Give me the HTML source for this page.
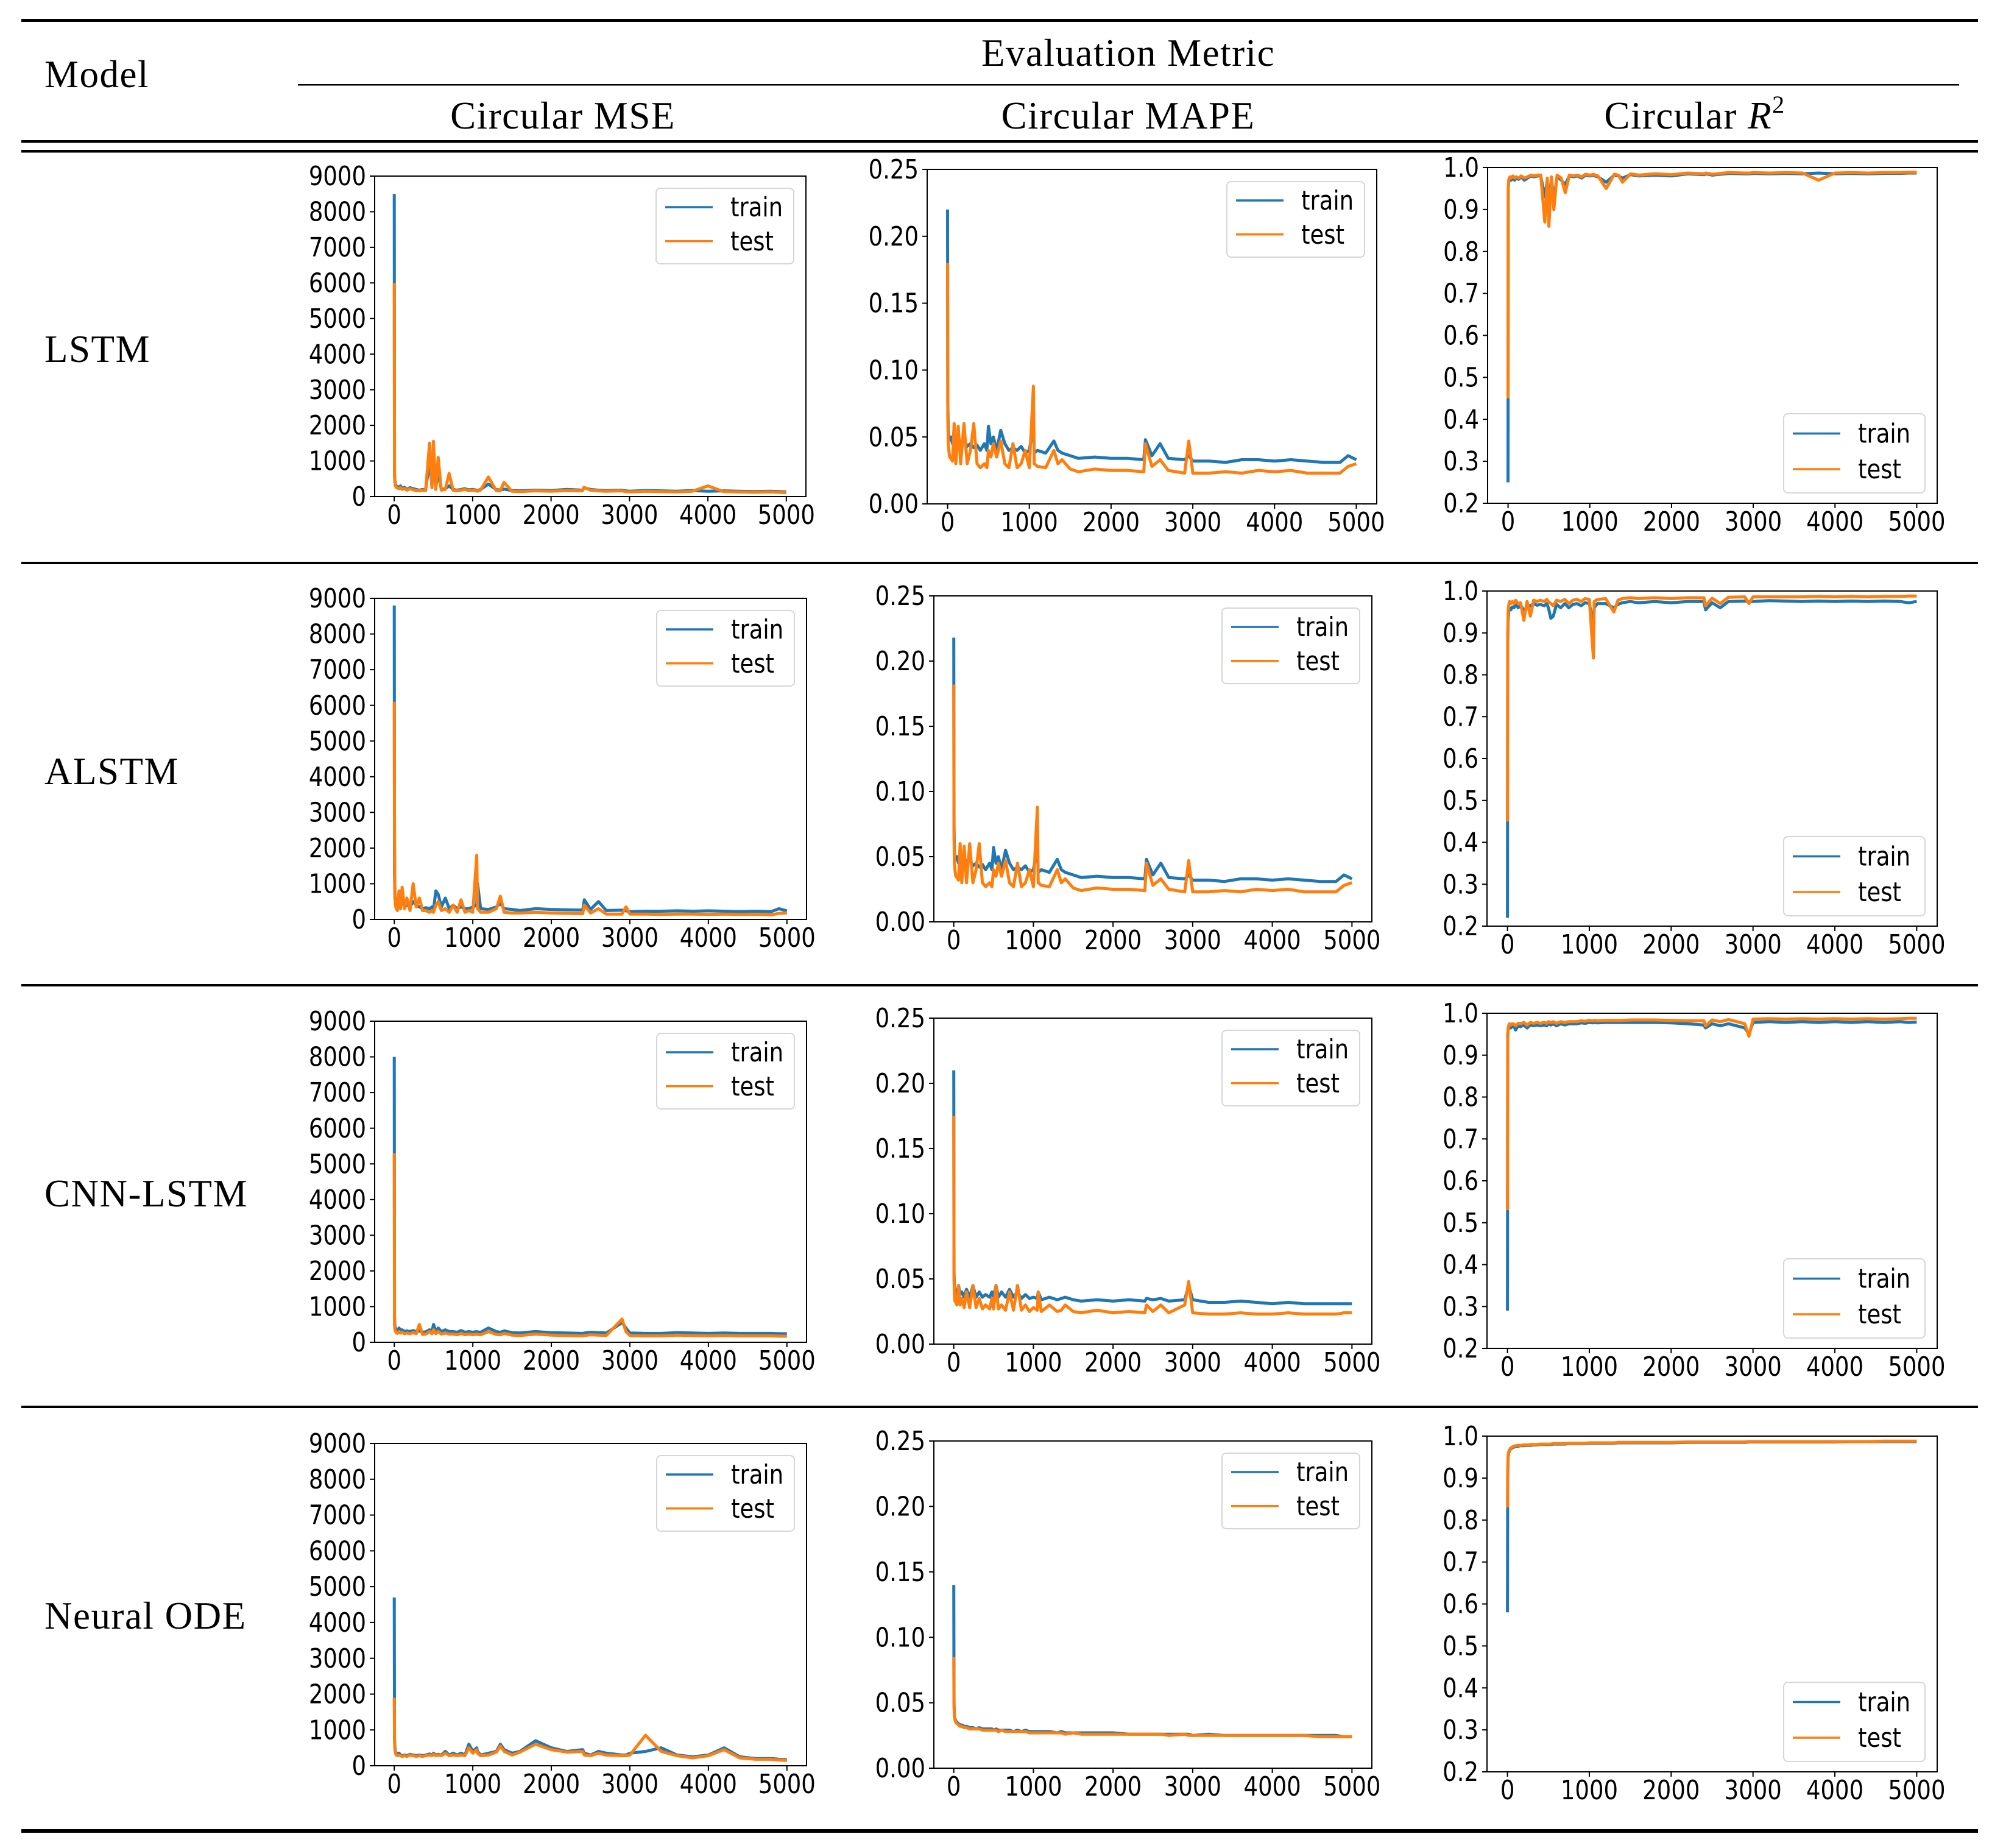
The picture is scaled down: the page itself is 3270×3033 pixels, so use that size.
<!DOCTYPE html>
<html><head><meta charset="utf-8">
<style>
html,body{margin:0;padding:0;background:#fff;}
svg{display:block;}
</style></head>
<body>
<svg id="fig" xmlns="http://www.w3.org/2000/svg" width="3270" height="3033" viewBox="0 0 3270 3033">
<rect x="0" y="0" width="3270" height="3033" fill="#fff"/>
<g fill="#000">
<rect x="35" y="31" width="3212" height="5"/>
<rect x="489" y="138" width="2727" height="2.5"/>
<rect x="35" y="230" width="3212" height="4.5"/>
<rect x="35" y="246" width="3212" height="4.5"/>
<rect x="35" y="922" width="3212" height="4"/>
<rect x="35" y="1615" width="3212" height="4"/>
<rect x="35" y="2307" width="3212" height="4"/>
<rect x="35" y="3002" width="3212" height="6"/>
</g>
<g font-family="'Liberation Serif', serif" font-size="63" letter-spacing="1.5" fill="#000">
<text x="73" y="143">Model</text>
<text x="1852" y="108" text-anchor="middle">Evaluation Metric</text>
<text x="924" y="211" text-anchor="middle">Circular MSE</text>
<text x="1852" y="211" text-anchor="middle">Circular MAPE</text>
<text x="2782" y="211" text-anchor="middle">Circular <tspan font-style="italic">R</tspan><tspan font-size="40" dy="-26">2</tspan></text>
<text x="73" y="594">LSTM</text>
<text x="73" y="1287">ALSTM</text>
<text x="73" y="1980">CNN-LSTM</text>
<text x="73" y="2673">Neural ODE</text>
</g>
<g id="charts"></g>
</svg>
<script>
const epochs = [0,3,8,15,25,40,60,80,100,130,160,200,240,280,320,360,400,450,480,500,530,560,600,650,700,750,800,850,900,950,1000,1050,1060,1100,1200,1300,1350,1400,1500,1600,1800,2000,2200,2400,2420,2500,2600,2700,2900,2950,3000,3200,3400,3600,3800,4000,4200,4400,4600,4800,4900,5000];
const xTicks = [0,1000,2000,3000,4000,5000];
const mseTicks = [0,1000,2000,3000,4000,5000,6000,7000,8000,9000];
const mapeTicks = [0,0.05,0.10,0.15,0.20,0.25];
const r2Ticks = [0.2,0.3,0.4,0.5,0.6,0.7,0.8,0.9,1.0];

const lstmMseTrain = [8500,700,450,350,300,280,250,300,220,260,200,250,220,200,180,200,190,1000,300,1050,250,700,200,220,300,200,180,200,220,190,200,180,170,200,350,200,180,210,170,160,180,170,200,180,250,200,180,170,180,160,150,170,160,150,170,150,160,150,140,150,140,130];
const lstmMseTest = [6000,600,400,300,260,240,220,250,200,230,180,220,190,170,160,180,170,1500,250,1550,200,1100,180,200,650,180,160,180,200,170,180,160,150,180,550,170,160,400,150,140,160,150,170,160,260,180,160,150,160,140,130,150,140,130,150,300,140,130,120,130,120,110];
const lstmMapeTrain = [0.22,0.075,0.055,0.05,0.048,0.05,0.045,0.055,0.045,0.05,0.045,0.048,0.043,0.045,0.042,0.044,0.04,0.045,0.04,0.058,0.045,0.05,0.04,0.055,0.045,0.04,0.042,0.04,0.043,0.038,0.04,0.058,0.038,0.04,0.038,0.047,0.04,0.038,0.036,0.034,0.035,0.034,0.034,0.033,0.048,0.036,0.045,0.034,0.033,0.036,0.032,0.032,0.031,0.033,0.033,0.032,0.033,0.032,0.031,0.031,0.036,0.033];
const lstmMapeTest = [0.18,0.065,0.045,0.04,0.035,0.034,0.032,0.06,0.03,0.058,0.03,0.06,0.03,0.04,0.06,0.03,0.027,0.03,0.027,0.04,0.035,0.045,0.035,0.047,0.03,0.027,0.045,0.027,0.03,0.04,0.027,0.088,0.03,0.028,0.027,0.04,0.03,0.033,0.026,0.024,0.026,0.025,0.025,0.024,0.045,0.028,0.033,0.025,0.023,0.047,0.023,0.023,0.024,0.023,0.025,0.024,0.025,0.023,0.023,0.023,0.028,0.03];
const lstmR2Train = [0.25,0.95,0.965,0.97,0.975,0.97,0.978,0.97,0.975,0.972,0.978,0.97,0.975,0.98,0.978,0.98,0.98,0.93,0.97,0.91,0.975,0.92,0.98,0.97,0.96,0.98,0.978,0.98,0.975,0.982,0.98,0.982,0.98,0.978,0.965,0.982,0.98,0.975,0.983,0.98,0.982,0.98,0.985,0.983,0.985,0.982,0.984,0.986,0.985,0.985,0.986,0.985,0.986,0.985,0.987,0.985,0.986,0.985,0.986,0.986,0.987,0.987];
const lstmR2Test = [0.45,0.95,0.97,0.975,0.978,0.975,0.98,0.975,0.978,0.975,0.98,0.975,0.978,0.982,0.98,0.982,0.982,0.87,0.975,0.86,0.978,0.9,0.982,0.975,0.94,0.982,0.98,0.982,0.978,0.984,0.982,0.984,0.982,0.98,0.95,0.984,0.982,0.965,0.985,0.982,0.985,0.983,0.987,0.985,0.987,0.984,0.986,0.988,0.987,0.987,0.988,0.987,0.988,0.987,0.97,0.987,0.988,0.987,0.988,0.988,0.989,0.989];

const alstmMseTrain = [8800,1300,700,500,400,350,400,350,600,350,400,350,500,400,350,300,330,300,350,280,800,700,350,600,300,400,300,350,300,300,350,400,1000,300,280,350,450,300,280,250,300,280,270,260,550,280,500,250,260,240,220,230,230,240,230,240,230,220,230,220,300,240];
const alstmMseTest = [6100,2600,600,400,300,250,800,300,900,300,600,250,1000,350,600,250,250,200,250,200,400,500,250,300,200,400,200,550,200,250,200,1800,300,200,200,300,650,200,180,180,200,180,170,160,400,180,300,150,150,350,150,150,140,150,150,140,150,140,140,130,170,180];
const alstmMapeTrain = [0.218,0.074,0.055,0.05,0.048,0.05,0.045,0.055,0.045,0.05,0.045,0.048,0.043,0.045,0.042,0.044,0.04,0.045,0.04,0.057,0.045,0.05,0.04,0.055,0.045,0.04,0.042,0.04,0.043,0.038,0.04,0.057,0.038,0.04,0.038,0.048,0.04,0.038,0.036,0.034,0.035,0.034,0.034,0.033,0.048,0.036,0.045,0.034,0.033,0.036,0.032,0.032,0.031,0.033,0.033,0.032,0.033,0.032,0.031,0.031,0.036,0.033];
const alstmMapeTest = [0.182,0.065,0.045,0.04,0.035,0.034,0.032,0.06,0.03,0.058,0.03,0.06,0.03,0.04,0.06,0.03,0.027,0.03,0.027,0.04,0.035,0.045,0.035,0.047,0.03,0.027,0.045,0.027,0.03,0.04,0.027,0.088,0.03,0.028,0.027,0.04,0.03,0.033,0.026,0.024,0.026,0.025,0.025,0.024,0.045,0.028,0.033,0.025,0.023,0.047,0.023,0.023,0.024,0.023,0.025,0.024,0.025,0.023,0.023,0.023,0.028,0.03];
const alstmR2Train = [0.22,0.88,0.93,0.95,0.96,0.955,0.962,0.96,0.97,0.96,0.965,0.955,0.96,0.965,0.97,0.966,0.968,0.965,0.97,0.96,0.935,0.94,0.968,0.96,0.97,0.96,0.968,0.97,0.965,0.972,0.97,0.92,0.96,0.97,0.97,0.96,0.968,0.972,0.975,0.972,0.975,0.972,0.975,0.975,0.955,0.972,0.96,0.975,0.976,0.975,0.975,0.977,0.976,0.975,0.976,0.975,0.976,0.975,0.976,0.975,0.972,0.975];
const alstmR2Test = [0.45,0.89,0.95,0.965,0.975,0.97,0.975,0.97,0.978,0.97,0.972,0.93,0.975,0.94,0.978,0.975,0.978,0.975,0.98,0.975,0.97,0.965,0.978,0.975,0.98,0.97,0.978,0.98,0.975,0.982,0.98,0.84,0.975,0.98,0.982,0.95,0.978,0.982,0.984,0.982,0.984,0.982,0.984,0.984,0.965,0.983,0.97,0.985,0.986,0.97,0.986,0.986,0.986,0.986,0.987,0.986,0.987,0.986,0.987,0.987,0.988,0.988];

const cnnMseTrain = [8000,700,450,400,350,320,400,330,350,300,320,300,330,300,320,280,290,350,300,500,300,400,300,350,300,300,280,330,280,300,280,300,290,280,400,300,280,320,270,260,300,270,260,250,260,280,270,260,550,400,260,250,250,270,260,250,260,250,250,250,240,240];
const cnnMseTest = [5300,500,350,300,270,250,300,260,280,240,260,240,270,240,500,220,230,300,240,350,240,300,230,260,230,230,210,250,210,230,210,230,220,210,300,220,210,250,200,190,230,200,190,180,190,210,200,190,650,300,190,180,180,200,190,180,190,180,180,180,170,170];
const cnnMapeTrain = [0.21,0.055,0.045,0.04,0.04,0.038,0.045,0.038,0.04,0.036,0.042,0.036,0.045,0.036,0.04,0.036,0.038,0.036,0.04,0.036,0.045,0.036,0.04,0.036,0.042,0.036,0.04,0.035,0.038,0.035,0.036,0.035,0.04,0.034,0.036,0.034,0.035,0.036,0.034,0.033,0.034,0.033,0.034,0.033,0.035,0.034,0.035,0.033,0.034,0.045,0.034,0.032,0.032,0.033,0.032,0.031,0.032,0.031,0.031,0.031,0.031,0.031];
const cnnMapeTest = [0.175,0.05,0.038,0.033,0.032,0.03,0.045,0.03,0.035,0.028,0.04,0.028,0.045,0.028,0.035,0.027,0.03,0.027,0.035,0.027,0.045,0.027,0.03,0.026,0.04,0.026,0.045,0.026,0.03,0.025,0.028,0.026,0.04,0.025,0.03,0.025,0.026,0.03,0.025,0.024,0.026,0.024,0.025,0.024,0.03,0.025,0.03,0.024,0.03,0.048,0.024,0.023,0.023,0.024,0.023,0.023,0.024,0.023,0.023,0.023,0.024,0.024];
const cnnR2Train = [0.29,0.95,0.96,0.965,0.97,0.965,0.97,0.968,0.96,0.97,0.968,0.972,0.965,0.972,0.97,0.972,0.97,0.972,0.97,0.975,0.972,0.975,0.97,0.975,0.972,0.975,0.975,0.975,0.977,0.976,0.978,0.977,0.978,0.977,0.978,0.978,0.978,0.978,0.978,0.978,0.978,0.977,0.975,0.972,0.965,0.975,0.97,0.975,0.965,0.95,0.978,0.98,0.978,0.98,0.978,0.98,0.978,0.98,0.978,0.98,0.978,0.979];
const cnnR2Test = [0.53,0.93,0.965,0.97,0.975,0.972,0.975,0.974,0.97,0.976,0.975,0.978,0.972,0.978,0.976,0.978,0.976,0.978,0.976,0.98,0.978,0.98,0.976,0.98,0.978,0.98,0.98,0.98,0.982,0.981,0.983,0.982,0.983,0.982,0.983,0.983,0.983,0.983,0.984,0.984,0.984,0.983,0.982,0.982,0.97,0.984,0.98,0.985,0.975,0.945,0.986,0.987,0.986,0.987,0.986,0.987,0.986,0.987,0.986,0.987,0.988,0.988];

const odeMseTrain = [4700,800,500,400,350,300,350,300,280,300,280,320,300,280,300,280,300,330,300,350,300,320,300,400,300,350,300,350,300,600,400,500,400,300,350,400,600,450,350,400,700,500,400,450,350,300,400,350,300,300,350,400,500,300,250,300,500,250,200,200,180,170];
const odeMseTest = [1900,700,450,350,300,280,300,280,260,280,260,300,280,260,280,260,280,300,280,320,280,300,280,350,280,300,280,300,280,500,350,450,350,280,300,380,550,400,300,380,600,450,380,400,300,280,350,300,280,280,300,850,400,280,220,280,450,220,180,180,160,150];
const odeMapeTrain = [0.14,0.05,0.04,0.038,0.036,0.035,0.034,0.033,0.033,0.032,0.032,0.031,0.031,0.03,0.031,0.03,0.03,0.03,0.03,0.029,0.03,0.029,0.029,0.029,0.029,0.028,0.029,0.028,0.029,0.028,0.028,0.028,0.028,0.028,0.028,0.027,0.028,0.027,0.027,0.027,0.027,0.027,0.026,0.026,0.026,0.026,0.026,0.026,0.026,0.026,0.025,0.026,0.025,0.025,0.025,0.025,0.025,0.025,0.025,0.025,0.024,0.024];
const odeMapeTest = [0.085,0.048,0.04,0.037,0.035,0.034,0.033,0.032,0.032,0.031,0.031,0.03,0.03,0.03,0.03,0.029,0.029,0.029,0.029,0.029,0.029,0.028,0.029,0.028,0.028,0.028,0.028,0.028,0.028,0.027,0.027,0.027,0.027,0.027,0.027,0.027,0.027,0.026,0.027,0.026,0.026,0.026,0.026,0.026,0.026,0.026,0.026,0.025,0.026,0.025,0.025,0.025,0.025,0.025,0.025,0.025,0.025,0.025,0.024,0.024,0.024,0.024];
const odeR2Train = [0.58,0.9,0.95,0.96,0.965,0.97,0.972,0.974,0.975,0.976,0.977,0.977,0.978,0.978,0.979,0.979,0.98,0.98,0.98,0.98,0.98,0.981,0.981,0.981,0.981,0.982,0.982,0.982,0.982,0.982,0.983,0.983,0.983,0.983,0.983,0.983,0.984,0.984,0.984,0.984,0.984,0.984,0.985,0.985,0.985,0.985,0.985,0.985,0.985,0.986,0.986,0.986,0.986,0.986,0.986,0.986,0.987,0.987,0.987,0.987,0.987,0.987];
const odeR2Test = [0.83,0.92,0.955,0.962,0.967,0.972,0.974,0.976,0.977,0.978,0.978,0.979,0.979,0.98,0.98,0.98,0.981,0.981,0.981,0.981,0.981,0.982,0.982,0.982,0.982,0.983,0.983,0.983,0.983,0.983,0.984,0.984,0.984,0.984,0.984,0.984,0.985,0.985,0.985,0.985,0.985,0.985,0.986,0.986,0.986,0.986,0.986,0.986,0.986,0.987,0.987,0.987,0.987,0.987,0.987,0.987,0.987,0.987,0.988,0.988,0.988,0.988];

const NS = 'http://www.w3.org/2000/svg';
const root = document.getElementById('charts');
const BLUE = '#1f77b4', ORANGE = '#ff7f0e';

function mk(tag, attrs, parent) {
  const e = document.createElementNS(NS, tag);
  for (const k in attrs) e.setAttribute(k, attrs[k]);
  parent.appendChild(e);
  return e;
}
function label(parent, x, y, str, anchor) {
  const t = mk('text', {transform: 'translate(' + x + ',' + y + ') scale(1,1.18)', x: 0, y: 0, 'text-anchor': anchor, 'dominant-baseline': 'central', 'font-family': "'DejaVu Sans', 'Liberation Sans', sans-serif", 'font-size': 37, fill: '#000'}, parent);
  t.textContent = str;
  return t;
}

const metrics = {
  mse: {lo: 0, hi: 9000, ticks: mseTicks, fmt: v => String(v), legend: 'top'},
  mape: {lo: 0, hi: 0.25, ticks: mapeTicks, fmt: v => v.toFixed(2), legend: 'top'},
  r2: {lo: 0.2, hi: 1.0, ticks: r2Ticks, fmt: v => v.toFixed(1), legend: 'bottom'}
};

const panels = [
  {name: 'lstm-mse', m: 'mse', box: [615,289,1323,815], tr: lstmMseTrain, te: lstmMseTest},
  {name: 'lstm-mape', m: 'mape', box: [1522,278,2260,827], tr: lstmMapeTrain, te: lstmMapeTest},
  {name: 'lstm-r2', m: 'r2', box: [2442,275,3180,826], tr: lstmR2Train, te: lstmR2Test},
  {name: 'alstm-mse', m: 'mse', box: [615,982,1324,1509], tr: alstmMseTrain, te: alstmMseTest},
  {name: 'alstm-mape', m: 'mape', box: [1533,978,2252,1513], tr: alstmMapeTrain, te: alstmMapeTest},
  {name: 'alstm-r2', m: 'r2', box: [2441,970,3180,1520], tr: alstmR2Train, te: alstmR2Test},
  {name: 'cnn-lstm-mse', m: 'mse', box: [615,1676,1324,2203], tr: cnnMseTrain, te: cnnMseTest},
  {name: 'cnn-lstm-mape', m: 'mape', box: [1533,1671,2252,2206], tr: cnnMapeTrain, te: cnnMapeTest},
  {name: 'cnn-lstm-r2', m: 'r2', box: [2441,1663,3180,2213], tr: cnnR2Train, te: cnnR2Test},
  {name: 'neural-ode-mse', m: 'mse', box: [615,2369,1324,2898], tr: odeMseTrain, te: odeMseTest},
  {name: 'neural-ode-mape', m: 'mape', box: [1533,2365,2252,2902], tr: odeMapeTrain, te: odeMapeTest},
  {name: 'neural-ode-r2', m: 'r2', box: [2441,2357,3180,2908], tr: odeR2Train, te: odeR2Test}
];

panels.forEach(p => {
  const M = metrics[p.m];
  const [x0, y0, x1, y1] = p.box;
  const xs = v => x0 + (v + 250) / 5500 * (x1 - x0);
  const ys = v => y1 - (v - M.lo) / (M.hi - M.lo) * (y1 - y0);
  const g = mk('g', {}, root);
  
  

  [[p.tr, BLUE, 'train'], [p.te, ORANGE, 'test']].forEach(([vals, col, nm]) => {
    const d = vals.map((v, i) => (i ? 'L' : 'M') + xs(epochs[i]).toFixed(1) + ',' + ys(v).toFixed(1)).join('');
    const path = mk('path', {d: d, fill: 'none', stroke: col, 'stroke-width': 5, 'stroke-linejoin': 'round'}, g);
    
    
  });

  const frame = mk('rect', {x: x0, y: y0, width: x1 - x0, height: y1 - y0, fill: 'none', stroke: '#000', 'stroke-width': 2}, g);
  
  

  M.ticks.forEach(v => {
    const y = ys(v);
    mk('line', {x1: x0 - 8, x2: x0, y1: y, y2: y, stroke: '#000', 'stroke-width': 2}, g);
    const t = label(g, x0 - 14, y, M.fmt(v), 'end');
    
    
  });
  xTicks.forEach(v => {
    const x = xs(v);
    mk('line', {x1: x, x2: x, y1: y1, y2: y1 + 8, stroke: '#000', 'stroke-width': 2}, g);
    const t = label(g, x, y1 + 30, String(v), 'middle');
    
    
  });

  const lw = p.m === 'r2' ? 232 : 226, lh = p.m === 'r2' ? 130 : 124;
  const lx = x1 - 20 - lw;
  const ly = M.legend === 'top' ? y0 + 20 : y1 - 17 - lh;
  const lg = mk('g', {}, g);
  
  
  mk('rect', {x: lx, y: ly, width: lw, height: lh, rx: 7, fill: '#fff', 'fill-opacity': 0.85, stroke: '#d6d6d6', 'stroke-width': 2}, lg);
  const r1 = ly + lh * 0.25, r2 = ly + lh * 0.7;
  [[r1, BLUE, 'train'], [r2, ORANGE, 'test']].forEach(([yy, col, nm]) => {
    const ln = mk('line', {x1: lx + 15, x2: lx + 93, y1: yy, y2: yy, stroke: col, 'stroke-width': 3.5}, lg);
    
    
    const t = label(lg, lx + 122, yy, nm, 'start');
    
    
  });
});
</script>
</body></html>
